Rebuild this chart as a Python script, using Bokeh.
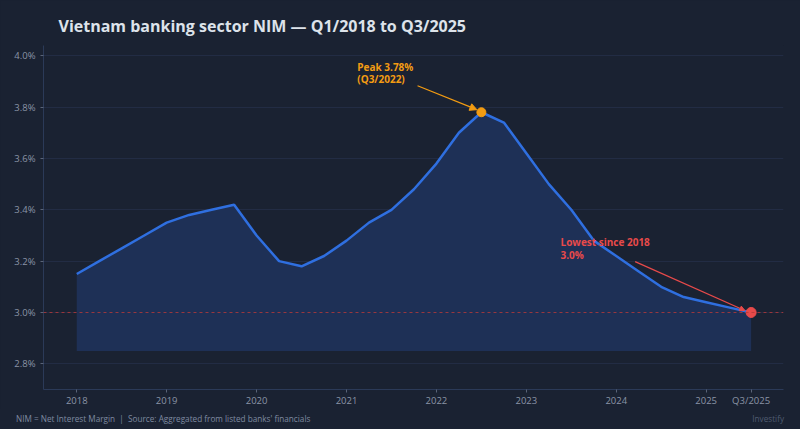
from bokeh.plotting import figure
from bokeh.layouts import column
from bokeh.models import (ColumnDataSource, FixedTicker, Span, Label, Arrow,
                          NormalHead, Range1d, NumeralTickFormatter, Div)
from bokeh.embed import file_html
from bokeh.resources import INLINE

# quarters Q1/2018 .. Q3/2025
quarter_pos = [2018 + i * 0.25 for i in range(31)]
nim = [3.15, 3.20, 3.25, 3.30,
       3.35, 3.38, 3.40, 3.42,
       3.30, 3.20, 3.18, 3.22,
       3.28, 3.35, 3.40, 3.48,
       3.58, 3.70, 3.78, 3.74,
       3.62, 3.50, 3.40, 3.28,
       3.22, 3.16, 3.10, 3.06,
       3.04, 3.02, 3.00]
fill_base = 2.85
x_ticks = [2018, 2019, 2020, 2021, 2022, 2023, 2024, 2025, 2025.5]
x_tick_labels = ["2018", "2019", "2020", "2021", "2022", "2023", "2024", "2025", "Q3/2025"]
y_ticks = [2.8, 3.0, 3.2, 3.4, 3.6, 3.8, 4.0]
peak_idx = 18
low_idx = 30
footer_left = "NIM = Net Interest Margin&nbsp;&nbsp;|&nbsp;&nbsp;Source: Aggregated from listed banks' financials"
footer_right = "Investify"

BG = "#1a2232"
FONT = "Open Sans"

src = ColumnDataSource(dict(x=quarter_pos, y=[v / 100 for v in nim],
                            base=[fill_base / 100] * len(nim)))

p = figure(width=800, height=409, output_backend="svg", toolbar_location=None,
           x_range=Range1d(2017.63, 2025.86), y_range=Range1d(0.0270, 0.0404),
           min_border_left=43, min_border_right=17, min_border_top=45,
           min_border_bottom=19)
p.background_fill_color = BG
p.border_fill_color = BG
p.outline_line_color = None

p.title.text = "Vietnam banking sector NIM \u2014 Q1/2018 to Q3/2025"
p.title.text_font = FONT
p.title.text_font_size = "16px"
p.title.text_font_style = "bold"
p.title.text_color = "#dde3ea"
p.title.offset = 15
p.title.standoff = 18

p.varea(x="x", y1="base", y2="y", source=src, fill_color="#1e3056", fill_alpha=1.0)
p.add_layout(Span(location=0.03, dimension="width", line_color="#b83a3a",
                  line_alpha=0.8, line_dash="3 3", line_width=1))
p.line(x="x", y="y", source=src, line_color="#2f6fe0", line_width=2.5)

# highlight points
p.scatter([quarter_pos[peak_idx]], [nim[peak_idx] / 100], size=9, color="#f39c12")
p.scatter([quarter_pos[low_idx]], [nim[low_idx] / 100], size=10, color="#e84a4a")

# annotations
def ann(x, y, text, color):
    p.add_layout(Label(x=x, y=y, text=text, text_font=FONT, text_font_size="10px",
                       text_font_style="bold", text_color=color, text_baseline="top"))

ann(2021.12, 0.03984, "Peak 3.78%", "#f39c12")
ann(2021.12, 0.03937, "(Q3/2022)", "#f39c12")
p.add_layout(Arrow(x_start=2021.79, y_start=0.03883, x_end=2022.45, y_end=0.03790,
                   line_color="#f39c12", line_width=1.2,
                   end=NormalHead(size=7, fill_color="#f39c12", line_color="#f39c12")))
ann(2023.38, 0.03300, "Lowest since 2018", "#e84a4a")
ann(2023.38, 0.03253, "3.0%", "#e84a4a")
p.add_layout(Arrow(x_start=2024.21, y_start=0.03198, x_end=2025.43, y_end=0.03008,
                   line_color="#e84a4a", line_width=1.2,
                   end=NormalHead(size=5, fill_color="#e84a4a", line_color="#e84a4a")))

# axes
p.xaxis.ticker = FixedTicker(ticks=x_ticks)
p.xaxis.major_label_overrides = {t: l for t, l in zip(x_ticks, x_tick_labels)}
p.yaxis.ticker = FixedTicker(ticks=[v / 100 for v in y_ticks])
p.yaxis.formatter = NumeralTickFormatter(format="0.0%")
for ax in (p.xaxis, p.yaxis):
    ax.axis_line_color = "#2b3a58"
    ax.major_tick_line_color = "#5a6478"
    ax.minor_tick_line_color = None
    ax.major_tick_out = 3
    ax.major_tick_in = 0
    ax.major_label_text_color = "#8a94a6"
    ax.major_label_text_font = FONT
    ax.major_label_text_font_size = "9.5px"
p.xaxis.major_label_standoff = 1
p.xgrid.grid_line_color = None
p.ygrid.grid_line_color = "#243049"
p.ygrid.grid_line_alpha = 0.8

# footer strip
footer_html = (
    f'<div style="display:flex;justify-content:space-between;box-sizing:border-box;'
    f'width:800px;height:20px;line-height:20px;padding:0 16px;'
    f'font-family:\'{FONT}\';font-size:8.2px;background:{BG};">'
    f'<span style="color:#7f8aa0;">{footer_left}</span>'
    f'<span style="color:#4f5b70;">{footer_right}</span></div>'
)
footer = Div(text=footer_html, width=800, height=20,
             styles={"background-color": BG, "margin": "0", "padding": "0"})

layout = column(p, footer, spacing=0, styles={"background-color": BG})
open("out.html", "w").write(file_html(layout, INLINE))
